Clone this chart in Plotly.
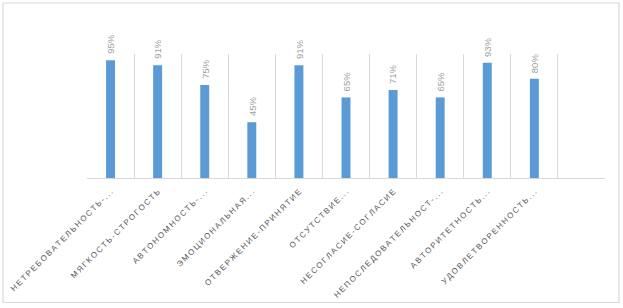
import plotly.graph_objects as go

categories = [
    "НЕТРЕБОВАТЕЛЬНОСТЬ-...",
    "МЯГКОСТЬ-СТРОГОСТЬ",
    "АВТОНОМНОСТЬ-...",
    "ЭМОЦИОНАЛЬНАЯ...",
    "ОТВЕРЖЕНИЕ-ПРИНЯТИЕ",
    "ОТСУТСТВИЕ...",
    "НЕСОГЛАСИЕ-СОГЛАСИЕ",
    "НЕПОСЛЕДОВАТЕЛЬНОСТ-...",
    "АВТОРИТЕТНОСТЬ...",
    "УДОВЛЕТВОРЕННОСТЬ...",
    "",
]
values = [0.95, 0.91, 0.75, 0.45, 0.91, 0.65, 0.71, 0.65, 0.93, 0.80, None]
value_labels = ["95%", "91%", "75%", "45%", "91%", "65%", "71%", "65%", "93%", "80%", ""]

W, H = 623, 308
L, R, T, B = 87, 605, 54, 178


def spaced(s):
    return "\u2009".join(list(s))


xkeys = [f"c{i}" for i in range(len(categories))]

fig = go.Figure()
fig.add_trace(go.Bar(
    x=xkeys,
    y=values,
    width=0.19,
    marker=dict(color="#5b9bd5", line=dict(width=0)),
    hoverinfo="skip",
))

for k, v, t in zip(xkeys, values, value_labels):
    if v is None or not t:
        continue
    fig.add_annotation(
        x=k, y=v, xref="x", yref="y",
        text=t, showarrow=False,
        textangle=-90,
        xanchor="center", yanchor="bottom",
        yshift=4,
        font=dict(family="Liberation Sans, Arial, sans-serif", size=9.5, color="#a0a0a0"),
    )

pw = R - L
ph = B - T


def px2paper_x(px):
    return (px - L) / pw


def px2paper_y(py):
    return (B - py) / ph


fig.add_shape(
    type="rect", xref="paper", yref="paper",
    x0=px2paper_x(3), x1=px2paper_x(619),
    y0=px2paper_y(302.5), y1=px2paper_y(3),
    line=dict(color="#d9d9d9", width=1.2),
    fillcolor="rgba(0,0,0,0)",
    layer="below",
)

fig.update_layout(
    width=W, height=H,
    margin=dict(l=L, r=W - R, t=T, b=H - B, pad=0, autoexpand=False),
    paper_bgcolor="white",
    plot_bgcolor="white",
    showlegend=False,
    xaxis=dict(
        type="category",
        tickmode="array",
        tickvals=xkeys,
        ticktext=[spaced(c) for c in categories],
        tickangle=-45,
        tickson="boundaries",
        ticks="",
        ticklabelstandoff=5,
        automargin=False,
        showgrid=True,
        gridcolor="#d9d9d9",
        gridwidth=1,
        showline=True,
        linecolor="#d9d9d9",
        linewidth=1,
        tickfont=dict(family="Liberation Sans, Arial, sans-serif", size=8, color="#595959"),
        range=[-0.5, 10.5],
        fixedrange=True,
    ),
    yaxis=dict(
        range=[0, 1],
        visible=False,
        showgrid=False,
        zeroline=False,
        fixedrange=True,
        automargin=False,
    ),
)

fig.write_html(
    "out.html",
    config={"displayModeBar": False, "staticPlot": True},
    post_script="document.body.style.margin='0';document.body.style.padding='0';",
)
